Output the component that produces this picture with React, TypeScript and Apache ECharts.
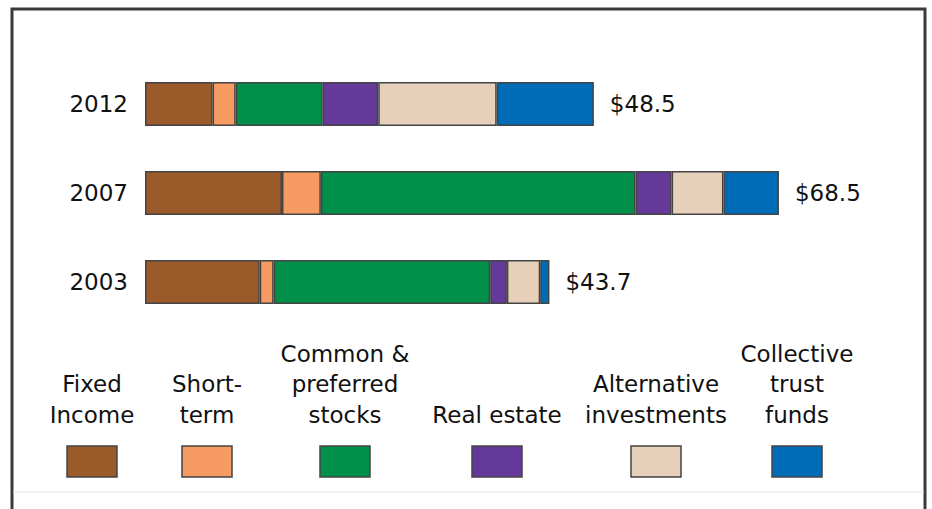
import React, { useEffect, useRef } from "react";
import * as echarts from "echarts";

const years = ["2003", "2007", "2012"];
const seriesNames = [
  "Fixed income",
  "Short-term",
  "Common & preferred stocks",
  "Real estate",
  "Alternative investments",
  "Collective trust funds",
];
const legendLabels = [
  "Fixed\nIncome",
  "Short-\nterm",
  "Common &\npreferred\nstocks",
  "Real estate",
  "Alternative\ninvestments",
  "Collective\ntrust\nfunds",
];
const colors = ["#9B5A2A", "#F69B62", "#00904A", "#65399A", "#E6D0BA", "#006CB7"];
// values in $ billions, order: 2003, 2007, 2012
const fixedIncome = [12.4, 14.8, 7.3];
const shortTerm = [1.5, 4.2, 2.5];
const commonStocks = [23.4, 34.0, 9.4];
const realEstate = [1.8, 3.9, 6.0];
const alternative = [3.6, 5.6, 12.8];
const collective = [1.0, 6.0, 10.5];
const totals = [43.7, 68.5, 48.5];

const allValues = [fixedIncome, shortTerm, commonStocks, realEstate, alternative, collective];

const FONT = "'DejaVu Sans', Arial, sans-serif";

export default function App() {
  const ref = useRef<HTMLDivElement>(null);
  useEffect(() => {
    if (!ref.current) return;
    const chart = echarts.init(ref.current, undefined, { renderer: "svg" });
    const legendX = [92, 207, 345, 497, 656, 797];
    const graphics: any[] = [
      {
        type: "rect",
        shape: { x: 12, y: 9, width: 913, height: 520 },
        style: { fill: "none", stroke: "#3a3a3a", lineWidth: 3 },
        silent: true,
      },
      {
        type: "line",
        shape: { x1: 13, y1: 492, x2: 924, y2: 492 },
        style: { stroke: "#e6e6e6", lineWidth: 1 },
        silent: true,
      },
    ];
    seriesNames.forEach((_, i) => {
      graphics.push({
        type: "text",
        x: legendX[i],
        y: 430,
        style: {
          text: legendLabels[i],
          fontSize: 23,
          fontFamily: FONT,
          fill: "#111",
          align: "center",
          verticalAlign: "bottom",
          lineHeight: 30.5,
        },
      });
      graphics.push({
        type: "rect",
        shape: { x: legendX[i] - 25, y: 446, width: 50, height: 31 },
        style: { fill: colors[i], stroke: "#444", lineWidth: 1.5 },
      });
    });

    chart.setOption({
      animation: false,
      grid: { left: 145, right: 46.6, top: 59.5, bottom: 182.5, containLabel: false },
      xAxis: { type: "value", min: 0, max: 80, show: false },
      yAxis: {
        type: "category",
        data: years,
        axisLine: { show: false },
        axisTick: { show: false },
        axisLabel: { fontSize: 23, fontFamily: FONT, color: "#111", margin: 17 },
      },
      series: allValues.map((vals, i) => ({
        name: seriesNames[i],
        type: "bar",
        stack: "total",
        barWidth: 44,
        data: vals,
        itemStyle: { color: colors[i], borderColor: "#444", borderWidth: 1.5 },
        label:
          i === allValues.length - 1
            ? {
                show: true,
                position: "right",
                distance: 16,
                fontSize: 23,
                fontFamily: FONT,
                color: "#111",
                formatter: (p: any) => "$" + totals[p.dataIndex].toFixed(1),
              }
            : { show: false },
      })),
      graphic: graphics,
    });
    return () => chart.dispose();
  }, []);
  return (
    <div
      ref={ref}
      style={{ position: "fixed", left: 0, top: 0, width: 932, height: 509, background: "#fff" }}
    />
  );
}
